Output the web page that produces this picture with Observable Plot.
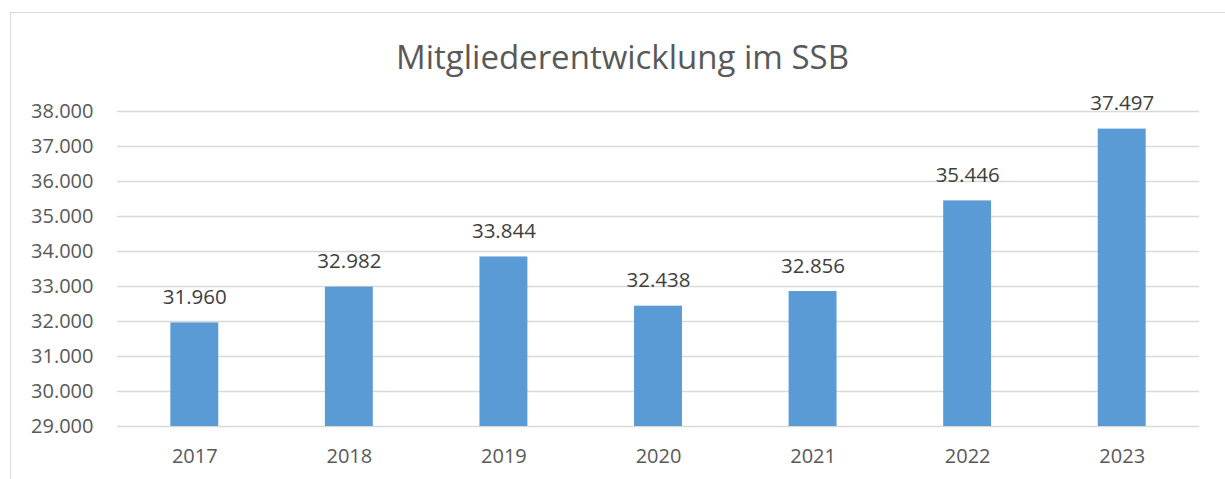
<!DOCTYPE html>
<html>
<head>
<meta charset="utf-8">
<script src="https://cdn.jsdelivr.net/npm/d3@7"></script>
<script src="https://cdn.jsdelivr.net/npm/@observablehq/plot@0.6"></script>
<style>
  html, body { margin: 0; padding: 0; background: #fff; overflow: hidden; }
  #wrap { position: relative; width: 1225px; height: 479px; overflow: hidden; font-family: "Open Sans", sans-serif; }
  #frame { position: absolute; left: 10px; top: 12px; width: 1400px; height: 700px; border: 1.5px solid #d9d9d9; box-sizing: border-box; }
  #title { position: absolute; left: 10px; width: 1225px; top: 37px; text-align: center; font-size: 33px; color: #595959; line-height: 1.2; }
  #chart { position: absolute; left: 0; top: 0; }
</style>
</head>
<body>
<div id="wrap">
  <div id="frame"></div>
  <div id="title">Mitgliederentwicklung im SSB</div>
  <div id="chart"></div>
</div>
<script>
const years = ["2017", "2018", "2019", "2020", "2021", "2022", "2023"];
const members = [31960, 32982, 33844, 32438, 32856, 35446, 37497];
const yTicks = [29000, 30000, 31000, 32000, 33000, 34000, 35000, 36000, 37000, 38000];

const data = years.map((y, i) => ({year: y, value: members[i]}));
const de = d3.formatLocale({decimal: ",", thousands: ".", grouping: [3], currency: ["", " €"]});
const fmt = de.format(",d");

const chart = Plot.plot({
  width: 1225,
  height: 479,
  marginLeft: 117,
  marginRight: 26,
  marginTop: 111,
  marginBottom: 53,
  style: {fontFamily: "Open Sans, sans-serif", fontSize: "20px", color: "#595959", background: "transparent"},
  x: {domain: years, paddingInner: 0.69, paddingOuter: 0.345, round: false, label: null},
  y: {domain: [29000, 38000], label: null},
  marks: [
    Plot.ruleY(yTicks, {stroke: "#d9d9d9", strokeWidth: 1.5}),
    Plot.barY(data, {x: "year", y1: 29000, y2: "value", fill: "#5B9BD5"}),
    Plot.text(data, {x: "year", y: "value", text: d => fmt(d.value), lineAnchor: "bottom", dy: -19, fontSize: 20.5, fill: "#404040"}),
    Plot.axisY(yTicks, {tickSize: 0, tickPadding: 24, tickFormat: fmt, fontSize: 20, fill: "#595959"}),
    Plot.axisX({tickSize: 0, tickPadding: 22, fontSize: 20, fill: "#595959"})
  ]
});
document.getElementById("chart").appendChild(chart);
</script>
</body>
</html>
